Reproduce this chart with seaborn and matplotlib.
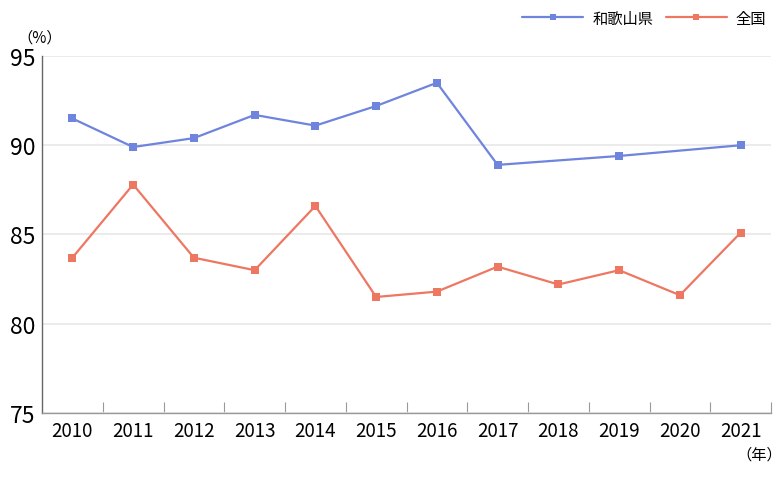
import numpy as np
import pandas as pd
import matplotlib
matplotlib.use("Agg")
import matplotlib.pyplot as plt
import seaborn as sns
from matplotlib.ticker import FixedLocator

years = [2010, 2011, 2012, 2013, 2014, 2015, 2016, 2017, 2018, 2019, 2020, 2021]
wakayama = [91.5, 89.9, 90.4, 91.7, 91.1, 92.2, 93.5, 88.9, np.nan, 89.4, np.nan, 90.0]
zenkoku = [83.7, 87.8, 83.7, 83.0, 86.6, 81.5, 81.8, 83.2, 82.2, 83.0, 81.6, 85.1]
series_names = ["和歌山県", "全国"]
colors = ["#6F84DC", "#EE7762"]
y_ticks = [75, 80, 85, 90, 95]

sns.set_theme(style="white")
plt.rcParams['font.family'] = ['Noto Sans CJK JP', 'DejaVu Sans']

df = pd.DataFrame({"year": years * 2,
                   "value": wakayama + zenkoku,
                   "series": [series_names[0]] * len(years) + [series_names[1]] * len(years)})
df = df.dropna()

fig = plt.figure(figsize=(7.83, 4.81), dpi=100)
ax = fig.add_axes([42/783, 1 - 414/481, (771-42)/783, (414-57)/481])

for name, col in zip(series_names, colors):
    sub = df[df["series"] == name]
    sns.lineplot(data=sub, x="year", y="value", ax=ax, color=col, marker="s",
                 markersize=6, markeredgewidth=0, linewidth=1.6, label=name)

ax.set_xlim(years[0] - 0.5, years[-1] + 0.5)
ax.set_ylim(75, 95)
ax.set_yticks(y_ticks)
ax.set_yticklabels([str(t) for t in y_ticks], fontsize=16.5, color='black')
ax.set_xticks(years)
ax.set_xticklabels([str(y) for y in years], fontsize=13.5, color='black')
ax.xaxis.set_minor_locator(FixedLocator([y + 0.5 for y in years[:-1]] + [years[-1] + 0.5]))
ax.tick_params(axis='x', which='major', length=0, pad=5)
ax.tick_params(axis='x', which='minor', direction='in', length=8, width=0.8, color='#999999', bottom=True)
ax.tick_params(axis='y', length=0, pad=5)
ax.grid(axis='y', color='#E8E8E8', linewidth=1.2)
ax.set_axisbelow(True)
for s in ['top', 'right']:
    ax.spines[s].set_visible(False)
ax.spines['left'].set_color('#666666')
ax.spines['left'].set_linewidth(1.0)
ax.spines['bottom'].set_color('#999999')
ax.spines['bottom'].set_linewidth(1.0)
ax.set_xlabel("")
ax.set_ylabel("")

fig.text(40/783, 1 - 38/481, "（%）", fontsize=11, ha='center', va='center', color='black')
fig.text(759/783, 1 - 455/481, "（年）", fontsize=11, ha='center', va='center', color='black')

leg = ax.legend(loc='upper right', bbox_to_anchor=(777/783, 1.0), bbox_transform=fig.transFigure,
                ncol=2, frameon=False, fontsize=11, handlelength=4.0, columnspacing=0.8,
                handletextpad=0.6, markerscale=0.75, borderaxespad=0.3)
for t in leg.get_texts():
    t.set_color('black')

fig.savefig("out.png", dpi=100)
